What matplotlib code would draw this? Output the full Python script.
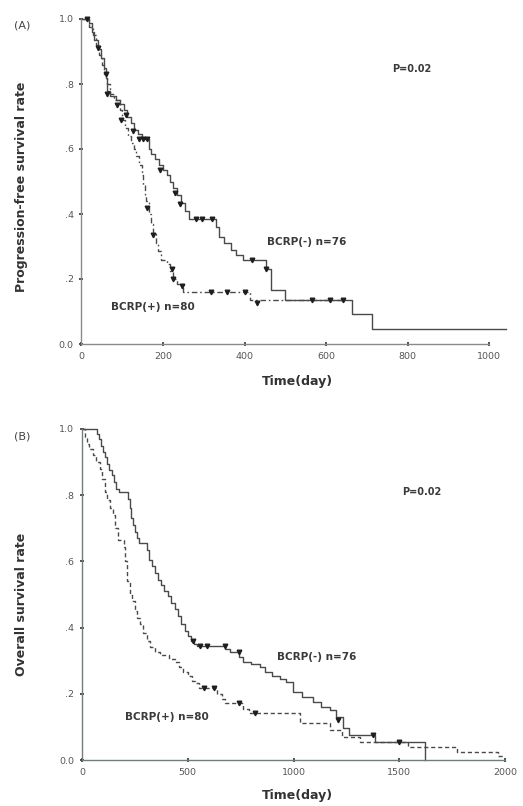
import matplotlib
matplotlib.use("Agg")
import matplotlib.pyplot as plt

# ---------------- data: panel A (progression-free survival) ----------------
a_neg_t = [0, 18, 25, 32, 40, 48, 55, 60, 64, 70, 85, 95, 105, 112, 122, 130, 140, 148,
           165, 172, 180, 190, 200, 210, 218, 225, 235, 245, 255, 265, 330, 338, 350,
           368, 380, 396, 452, 465, 499, 663, 713, 1040]
a_neg_s = [1.0, 0.987, 0.96, 0.934, 0.908, 0.88, 0.85, 0.82, 0.78, 0.763, 0.75, 0.737,
           0.72, 0.70, 0.68, 0.66, 0.645, 0.63, 0.60, 0.585, 0.57, 0.55, 0.535, 0.52,
           0.50, 0.48, 0.46, 0.435, 0.41, 0.385, 0.36, 0.33, 0.31, 0.29, 0.275, 0.26,
           0.23, 0.166, 0.135, 0.092, 0.046, 0.046]
a_neg_cens_t = [15, 41, 60, 64, 88, 110, 127, 142, 152, 161, 193, 230, 242, 281, 296,
                320, 419, 452, 565, 610, 642]
a_neg_cens_s = [1.0, 0.91, 0.83, 0.77, 0.735, 0.705, 0.655, 0.63, 0.63, 0.63, 0.535,
                0.465, 0.43, 0.385, 0.385, 0.385, 0.26, 0.23, 0.135, 0.135, 0.135]

a_pos_t = [0, 20, 28, 36, 44, 50, 56, 62, 70, 80, 95, 100, 108, 115, 122, 128, 135, 142,
           148, 152, 155, 158, 165, 170, 176, 182, 188, 196, 210, 218, 224, 235, 250,
           413, 645]
a_pos_s = [1.0, 0.975, 0.95, 0.92, 0.89, 0.86, 0.83, 0.80, 0.77, 0.75, 0.72, 0.69, 0.665,
           0.64, 0.62, 0.60, 0.58, 0.55, 0.52, 0.49, 0.46, 0.44, 0.40, 0.37, 0.34, 0.31,
           0.285, 0.26, 0.245, 0.225, 0.20, 0.185, 0.16, 0.135, 0.135]
a_pos_cens_t = [98, 160, 176, 222, 225, 246, 318, 356, 401, 431]
a_pos_cens_s = [0.69, 0.42, 0.335, 0.23, 0.20, 0.18, 0.16, 0.16, 0.16, 0.125]

# ---------------- data: panel B (overall survival) ----------------
b_neg_t = [0, 71, 80, 90, 100, 110, 120, 130, 140, 150, 160, 175, 217, 225, 232, 240, 250,
           258, 268, 307, 318, 330, 345, 360, 375, 390, 405, 420, 440, 455, 470, 485, 500,
           515, 530, 545, 676, 700, 742, 760, 800, 840, 865, 900, 935, 965, 997, 1040,
           1092, 1130, 1172, 1200, 1234, 1262, 1385, 1622]
b_neg_s = [1.0, 0.985, 0.97, 0.95, 0.93, 0.915, 0.895, 0.875, 0.86, 0.84, 0.82, 0.81, 0.79,
           0.76, 0.73, 0.71, 0.69, 0.67, 0.655, 0.635, 0.605, 0.585, 0.565, 0.545, 0.53,
           0.51, 0.495, 0.475, 0.455, 0.435, 0.41, 0.39, 0.375, 0.36, 0.35, 0.345, 0.335,
           0.325, 0.31, 0.297, 0.29, 0.28, 0.265, 0.255, 0.245, 0.235, 0.206, 0.19, 0.175,
           0.16, 0.15, 0.13, 0.097, 0.075, 0.055, 0.0]
b_neg_cens_t = [525, 558, 591, 676, 742, 1210, 1375, 1500]
b_neg_cens_s = [0.36, 0.345, 0.345, 0.345, 0.327, 0.12, 0.075, 0.055]

b_pos_t = [0, 12, 22, 35, 52, 65, 85, 95, 108, 118, 132, 147, 158, 170, 199, 205, 213, 225,
           236, 250, 262, 274, 290, 305, 321, 345, 369, 410, 440, 460, 478, 500, 520, 534,
           555, 638, 660, 676, 760, 790, 1031, 1172, 1229, 1314, 1541, 1773, 1967, 1995]
b_pos_s = [1.0, 0.975, 0.955, 0.94, 0.92, 0.90, 0.88, 0.85, 0.81, 0.785, 0.76, 0.74, 0.70,
           0.665, 0.645, 0.60, 0.54, 0.50, 0.48, 0.45, 0.43, 0.41, 0.385, 0.36, 0.34,
           0.325, 0.317, 0.305, 0.297, 0.28, 0.267, 0.255, 0.24, 0.232, 0.218, 0.20, 0.185,
           0.172, 0.155, 0.142, 0.112, 0.09, 0.07, 0.055, 0.04, 0.024, 0.012, 0.012]
b_pos_cens_t = [577, 624, 742, 818]
b_pos_cens_s = [0.218, 0.218, 0.172, 0.142]

y_ticks = [0.0, 0.2, 0.4, 0.6, 0.8, 1.0]
y_tick_labels = ["0.0", ".2", ".4", ".6", ".8", "1.0"]
a_x_ticks = [0, 200, 400, 600, 800, 1000]
b_x_ticks = [0, 500, 1000, 1500, 2000]

# ---------------- figure ----------------
W, H = 523, 806
fig = plt.figure(figsize=(W / 100, H / 100), dpi=100)
fig.patch.set_facecolor("white")

line_col = "#4a4a4a"
mark_col = "#1e1e1e"
text_col = "#3a3a3a"


def px_axes(left, top, right, bottom):
    return fig.add_axes([left / W, 1 - bottom / H, (right - left) / W, (bottom - top) / H])


def style(ax, xmax, xticks, spine_col):
    for s in ["top", "right"]:
        ax.spines[s].set_visible(False)
    for s in ["left", "bottom"]:
        ax.spines[s].set_color(spine_col)
        ax.spines[s].set_linewidth(1.0)
    ax.spines["bottom"].set_bounds(0, xmax)
    ax.set_ylim(0, 1.0)
    ax.set_yticks(y_ticks)
    ax.set_yticklabels(y_tick_labels)
    ax.set_xticks(xticks)
    ax.set_xticklabels([str(v) for v in xticks])
    ax.tick_params(axis="both", direction="inout", length=3, width=1.2, color="#333333",
                   labelsize=6.8, labelcolor="#555555")
    ax.tick_params(axis="y", pad=4)
    ax.tick_params(axis="x", pad=4)


# Panel A
axA = px_axes(81.3, 19, 81.3 + 0.408 * 1045, 344)
axA.set_xlim(0, 1045)
style(axA, 1000, a_x_ticks, "#8a8a8a")
axA.step(a_neg_t, a_neg_s, where="post", color=line_col, lw=1.0, clip_on=False)
axA.step(a_pos_t, a_pos_s, where="post", color=line_col, lw=1.0, clip_on=False,
         linestyle=(0, (4, 2, 1.2, 2)))
axA.plot(a_neg_cens_t, a_neg_cens_s, "v", color=mark_col, ms=3.3, clip_on=False)
axA.plot(a_pos_cens_t, a_pos_cens_s, "v", color=mark_col, ms=3.3, clip_on=False)
axA.text(810, 0.846, "P=0.02", fontsize=7, fontweight="bold", color=text_col,
         ha="center", va="center")
axA.text(553, 0.314, "BCRP(-) n=76", fontsize=7.5, fontweight="bold", color=text_col,
         ha="center", va="center")
axA.text(176, 0.114, "BCRP(+) n=80", fontsize=7.5, fontweight="bold", color=text_col,
         ha="center", va="center")
fig.text(297 / W, 1 - 382 / H, "Time(day)", fontsize=9, fontweight="bold",
         color="#333333", ha="center", va="center")

# Panel B
axB = px_axes(82, 429, 82 + 0.2115 * 2000, 760)
axB.set_xlim(0, 2000)
style(axB, 2000, b_x_ticks, "#6d8078")
axB.step(b_neg_t, b_neg_s, where="post", color=line_col, lw=1.0, clip_on=False)
axB.step(b_pos_t, b_pos_s, where="post", color=line_col, lw=1.0, clip_on=False,
         linestyle=(0, (3, 2)))
axB.plot(b_neg_cens_t, b_neg_cens_s, "v", color=mark_col, ms=3.3, clip_on=False)
axB.plot(b_pos_cens_t, b_pos_cens_s, "v", color=mark_col, ms=3.3, clip_on=False)
axB.text(1607, 0.81, "P=0.02", fontsize=7, fontweight="bold", color=text_col,
         ha="center", va="center")
axB.text(1111, 0.311, "BCRP(-) n=76", fontsize=7.5, fontweight="bold", color=text_col,
         ha="center", va="center")
axB.text(402, 0.13, "BCRP(+) n=80", fontsize=7.5, fontweight="bold", color=text_col,
         ha="center", va="center")
fig.text(297 / W, 1 - 796 / H, "Time(day)", fontsize=9, fontweight="bold",
         color="#333333", ha="center", va="center")

# Panel letters and y labels
fig.text(22 / W, 1 - 26 / H, "(A)", fontsize=8, color="#444444", ha="center", va="center")
fig.text(22 / W, 1 - 437 / H, "(B)", fontsize=8, color="#444444", ha="center", va="center")
fig.text(22 / W, 1 - 187 / H, "Progression-free survival rate", rotation=90, fontsize=9,
         fontweight="bold", color="#333333", ha="center", va="center")
fig.text(22 / W, 1 - 604 / H, "Overall survival rate", rotation=90, fontsize=9,
         fontweight="bold", color="#333333", ha="center", va="center")

fig.savefig("out.png", dpi=100, facecolor="white")
